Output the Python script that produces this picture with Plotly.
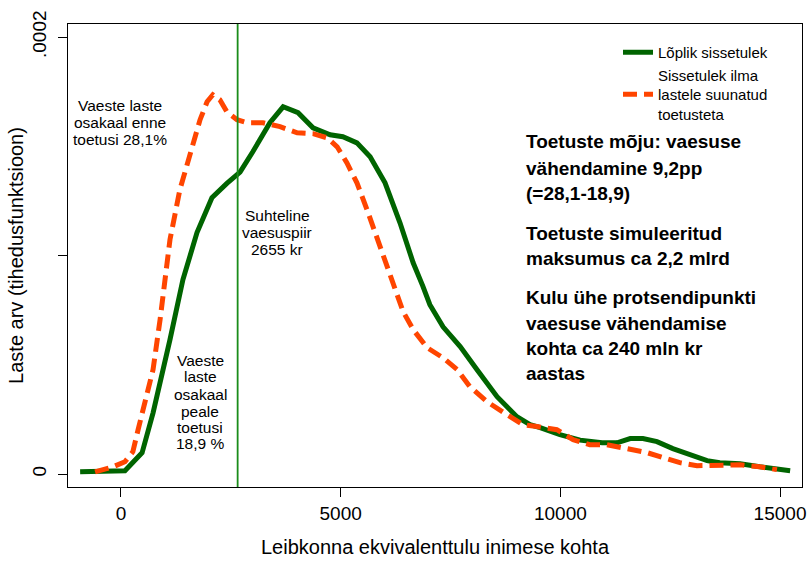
import numpy as np
import plotly.graph_objects as go

# ---- data (x: income, y: density in units of 1e-6) ----
final_x = [-930, -320, 90, 480, 730, 1115, 1410, 1730, 2070, 2410, 2710, 3000, 3390, 3690,
           4030, 4370, 4760, 5050, 5370, 5670, 6010, 6350, 6650, 6870, 7030, 7330, 7720,
           8100, 8560, 9010, 9310, 9540, 9990, 10450, 10950, 11290, 11590, 11880, 12200,
           12560, 12950, 13340, 13630, 14090, 14540, 15230]
final_y = [1.0, 1.3, 1.5, 9.7, 28, 61.5, 89, 110.5, 126.5, 133, 138.2, 147.5, 160.8, 168.1,
           165.4, 158.5, 155.3, 154.4, 151.6, 145.2, 133.3, 115, 96.7, 86, 77.5, 67.4, 58.3,
           47.8, 35.4, 26.2, 22.6, 21.2, 18, 15.5, 14.3, 14.3, 16.2, 16.2, 14.8,
           11.6, 8.8, 6.1, 5.2, 4.7, 3.3, 1.5]

pre_x = [-590, -180, 90, 270, 390, 590, 730, 890, 1115, 1340, 1570, 1800, 1960, 2090, 2250,
         2410, 2640, 2870, 3230, 3620, 4010, 4370, 4690, 4920, 5140, 5370, 5600, 5900, 6190,
         6420, 6650, 6970, 7330, 7650, 7940, 8330, 8790, 9150, 9470, 9920, 10290, 10670,
         11060, 11520, 11970, 12340, 12720, 13110, 13570, 14090, 14540, 14930]
pre_y = [1.0, 3.3, 5.6, 10.2, 20.3, 35.4, 47.8, 70.7, 107.3, 130.1, 147, 162.2, 170.4, 173.6,
         171.3, 165.8, 162.2, 160.8, 160.8, 159, 156.2, 155.8, 153.9, 149.8, 142.5, 133.3,
         121, 104, 87.6, 74.4, 66.1, 57.8, 53.2, 47.8, 40, 33.1, 27.1, 22.6, 21.7, 20.3,
         15.7, 13.4, 13.4, 11.6, 9.8, 7.5, 5.2, 3.8, 4.2, 4.2, 3.3, 2.0]

poverty_line = 2655

series_names = ["Lõplik sissetulek", "Sissetulek ilma<br>lastele suunatud<br>toetusteta"]

x_ticks = [0, 5000, 10000, 15000]
x_tick_labels = ["0", "5000", "10000", "15000"]
y_ticks = [0, 0.0001, 0.0002]
y_tick_labels = ["0", "", ".0002"]

x_title = "Leibkonna ekvivalenttulu inimese kohta"
y_title = "Laste arv (tihedusfunktsioon)"

note_before = ["Vaeste laste", "osakaal enne", "toetusi 28,1%"]
note_line = ["Suhteline", "vaesuspiir", "2655 kr"]
note_after = ["Vaeste", "laste", "osakaal", "peale", "toetusi", "18,9 %"]
bold_notes = ["Toetuste mõju: vaesuse", "vähendamine 9,2pp", "(=28,1-18,9)",
              "Toetuste simuleeritud", "maksumus ca 2,2 mlrd",
              "Kulu ühe protsendipunkti", "vaesuse vähendamise", "kohta ca 240 mln kr", "aastas"]

# ---- layout geometry (pixels) ----
W, H = 812, 564
L, R, T, B = 68, 802, 24, 487
FONT = "Liberation Sans, Arial, sans-serif"

def px2paper(px, py):
    return (px - L) / (R - L), (B - py) / (B - T)

fig = go.Figure()
fig.add_trace(go.Scatter(x=final_x, y=np.array(final_y) * 1e-6, mode="lines",
                         name=series_names[0],
                         line=dict(color="#006400", width=5)))
fig.add_trace(go.Scatter(x=pre_x, y=np.array(pre_y) * 1e-6, mode="lines",
                         name=series_names[1],
                         line=dict(color="#FF4500", width=5, dash="14px,7px")))

fig.add_vline(x=poverty_line, line=dict(color="#1a8c1a", width=1.8))

annotations = []
def add_lines(lines, cx, ys, size, bold=False, anchor="center"):
    for txt, py in zip(lines, ys):
        xp, yp = px2paper(cx, py)
        annotations.append(dict(
            x=xp, y=yp, xref="paper", yref="paper",
            text=f"<b>{txt}</b>" if bold else txt,
            showarrow=False, xanchor=anchor, yanchor="middle",
            font=dict(family=FONT, size=size, color="black")))

add_lines(note_before, 120, [105, 122, 139], 15.5)
add_lines(note_line, 277, [215, 232, 249], 15.5)
add_lines(note_after, 200, [360, 377, 394, 411, 427, 443], 15.5)
add_lines(bold_notes, 524, [142, 168, 193, 233, 258, 297, 323, 348, 373], 19, bold=True, anchor="left")

fig.update_layout(
    width=W, height=H,
    margin=dict(l=L, r=W - R, t=T, b=H - B, autoexpand=False),
    paper_bgcolor="white", plot_bgcolor="white",
    font=dict(family=FONT, color="black"),
    annotations=annotations,
    legend=dict(x=px2paper(618, 0)[0], y=px2paper(0, 36)[1], xanchor="left", yanchor="top",
                bgcolor="rgba(0,0,0,0)", font=dict(family=FONT, size=15),
                valign="middle", tracegroupgap=0),
    showlegend=True,
)
fig.update_xaxes(range=[-1206, 15500], tickvals=x_ticks, ticktext=x_tick_labels, automargin=False,
                 showgrid=False, zeroline=False, showline=True, linecolor="black", linewidth=1,
                 mirror=True, ticks="outside", ticklen=9, tickcolor="black",
                 tickfont=dict(family=FONT, size=19), ticklabelstandoff=0,
                 title=dict(text=x_title, font=dict(family=FONT, size=20), standoff=17))
fig.update_yaxes(range=[-5.95e-6, 2.06e-4], tickvals=y_ticks, ticktext=y_tick_labels, automargin=False,
                 tickangle=-90,
                 showgrid=False, zeroline=False, showline=True, linecolor="black", linewidth=1,
                 mirror=True, ticks="outside", ticklen=9, tickcolor="black",
                 tickfont=dict(family=FONT, size=19), ticklabelstandoff=4,
                 title=dict(text=y_title, font=dict(family=FONT, size=20), standoff=0))

fig.write_html("out.html", config={"displayModeBar": False},
               post_script="document.body.style.margin='0px';")
